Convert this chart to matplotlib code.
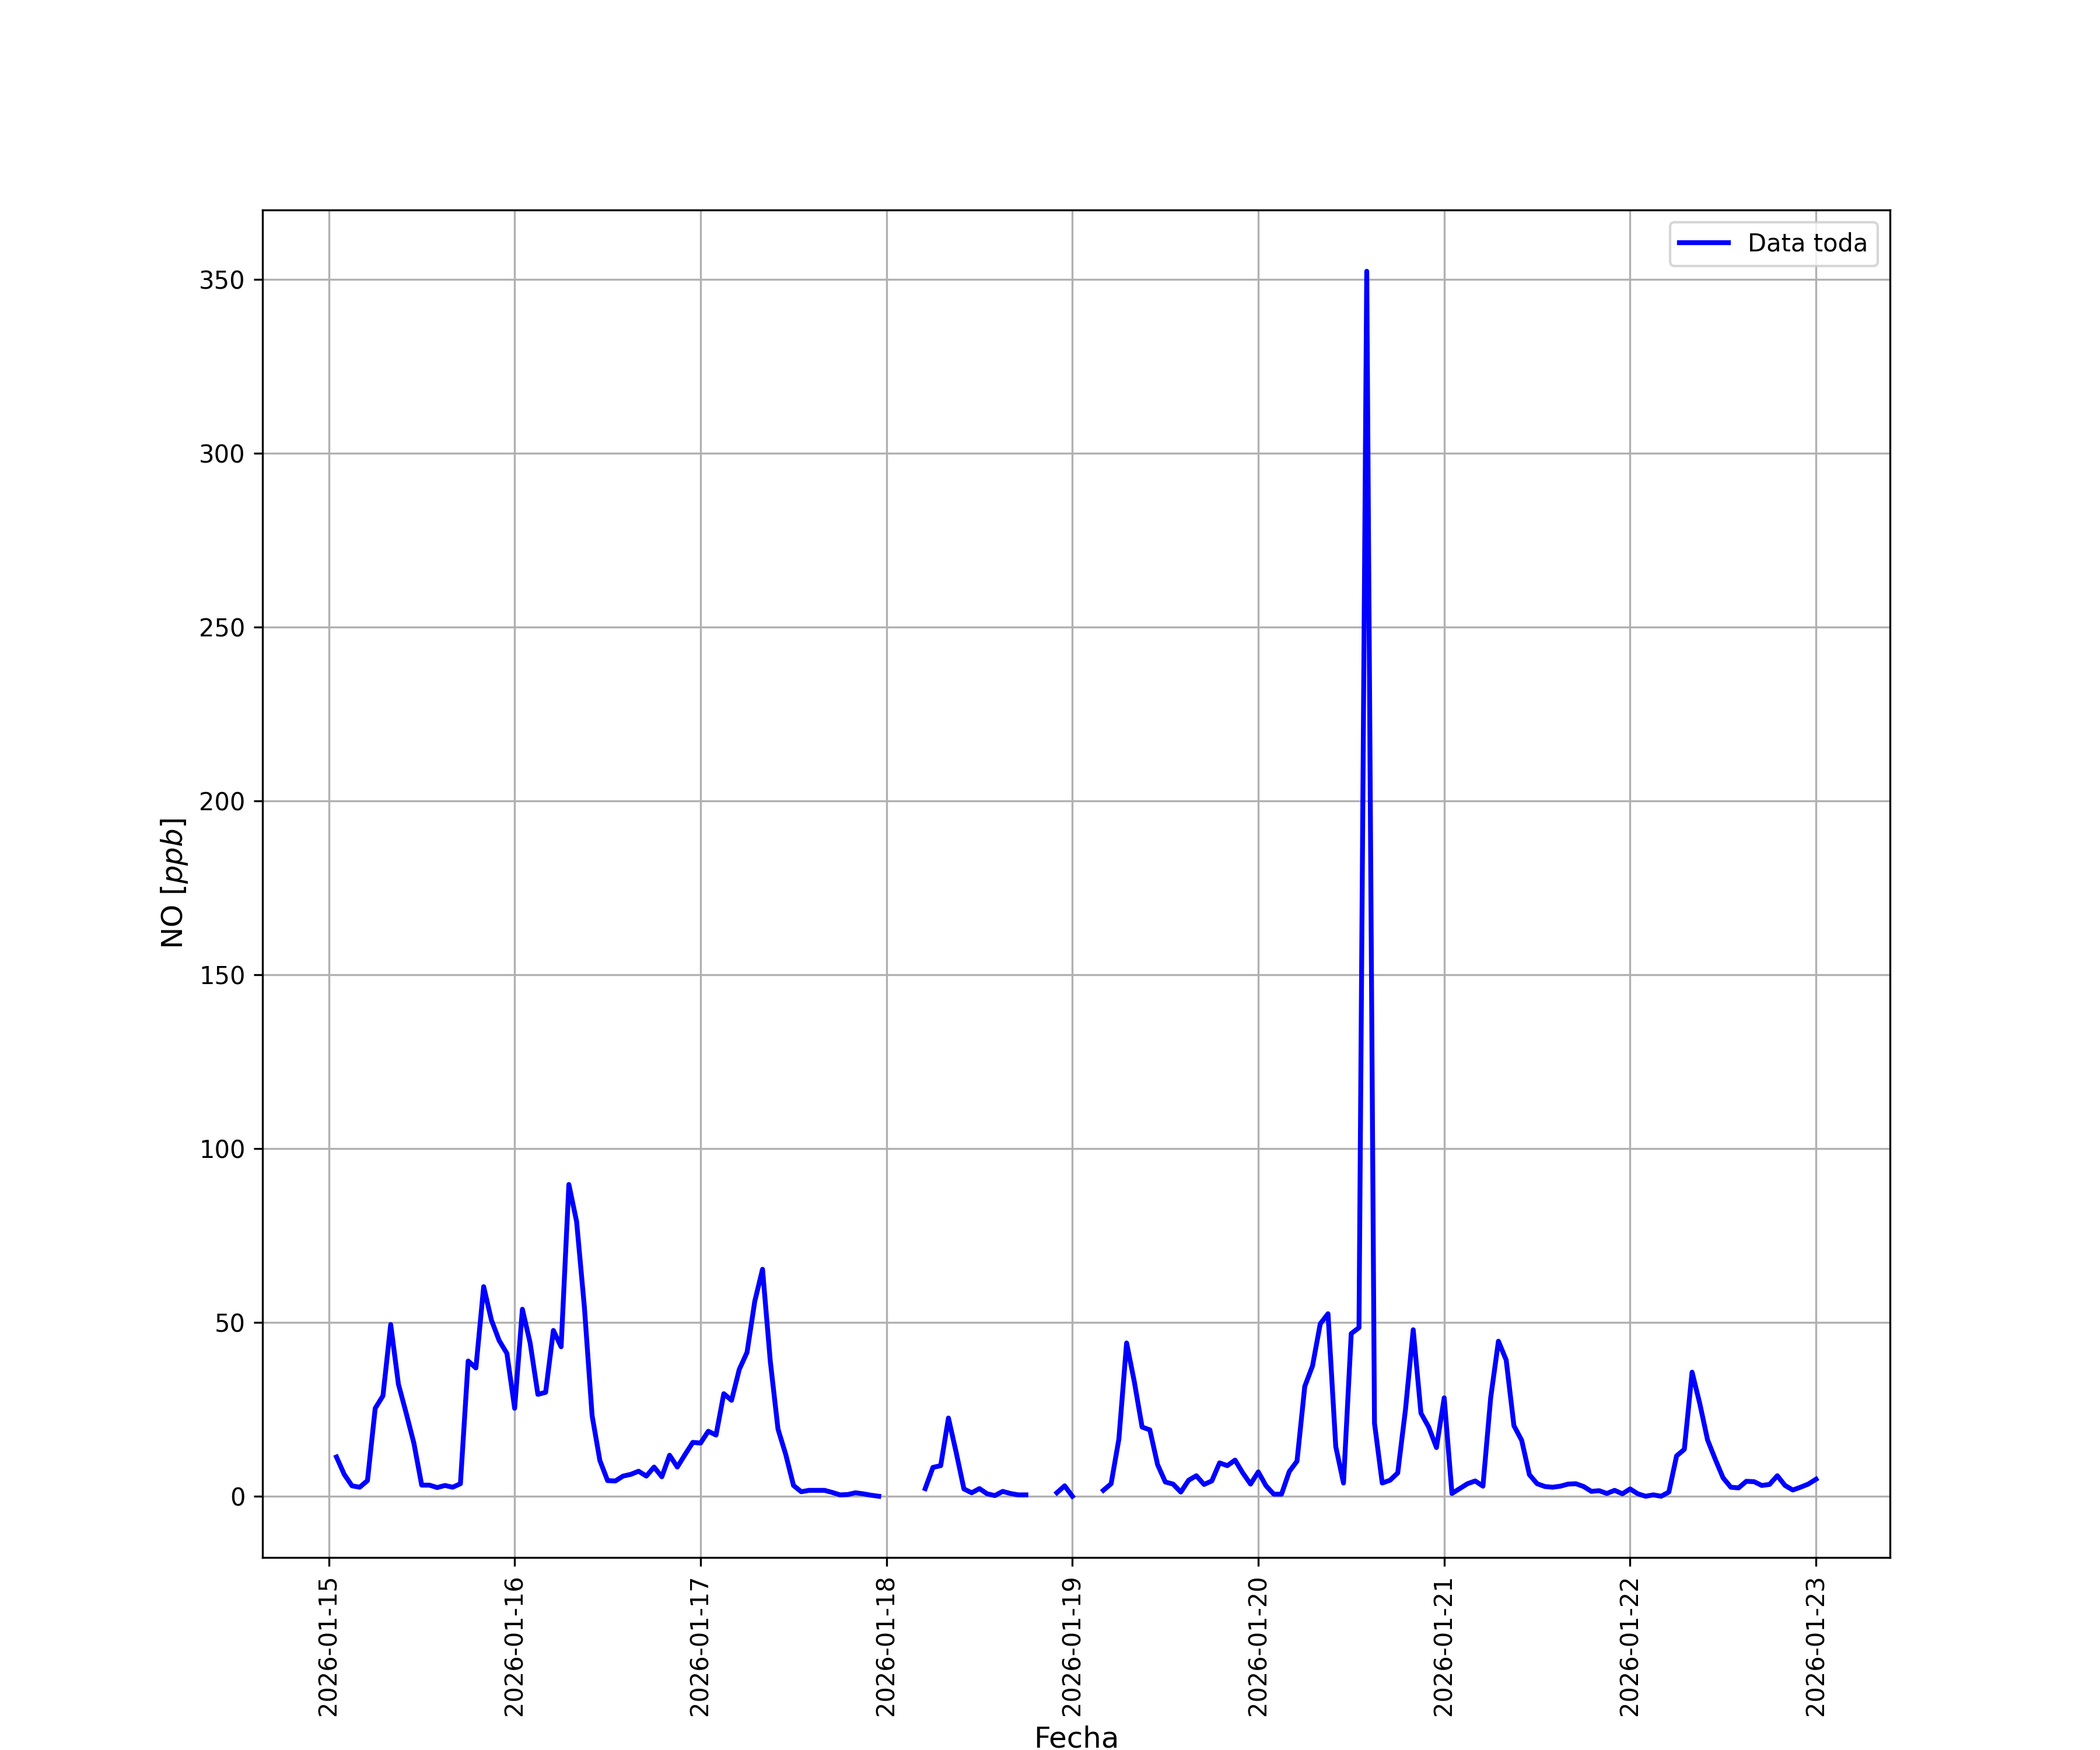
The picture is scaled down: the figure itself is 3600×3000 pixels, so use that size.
import numpy as np
import pandas as pd
import matplotlib
matplotlib.use("Agg")
import matplotlib.pyplot as plt
import matplotlib.dates as mdates

nan = np.nan
# Hourly NO values (ppb), 2026-01-15 01:00 .. 2026-01-23 00:00
day15 = [11.3, 6.3, 3.0, 2.6, 4.5, 25.3, 28.9, 49.4, 32.2, 23.9, 15.2, 3.2,
         3.2, 2.5, 3.1, 2.6, 3.6, 38.9, 36.9, 60.3, 50.7, 44.8, 41.1]
day16 = [25.3, 53.8, 44.1, 29.3, 29.9, 47.7, 43.0, 89.7, 79.0, 54.5, 23.2, 10.3,
         4.5, 4.4, 5.8, 6.3, 7.2, 5.8, 8.4, 5.6, 11.8, 8.4, 12.0, 15.5]
day17 = [15.3, 18.7, 17.6, 29.5, 27.6, 36.5, 41.4, 56.1, 65.3, 38.9, 19.3, 12.0,
         3.1, 1.3, 1.7, 1.7, 1.7, 1.1, 0.4, 0.5, 1.0, 0.7, 0.3, 0.0]
day18 = [nan, nan, nan, nan, nan, 2.2, 8.3, 8.8, 22.5, 12.6, 2.1, 1.0,
         2.2, 0.7, 0.2, 1.4, 0.8, 0.4, 0.4, nan, nan, nan, 1.0, 3.0]
day19 = [0.0, nan, nan, nan, 1.7, 3.6, 16.4, 44.1, 32.9, 19.9, 19.1, 9.1,
         4.1, 3.5, 1.2, 4.6, 5.9, 3.4, 4.4, 9.6, 8.8, 10.4, 6.7, 3.5]
day20 = [7.0, 3.0, 0.6, 0.6, 7.1, 10.1, 31.6, 37.5, 49.6, 52.5, 14.3, 3.8,
         46.8, 48.5, 352.4, 21.0, 3.8, 4.6, 6.7, 24.9, 47.9, 23.9, 19.9, 14.0]
day21 = [28.3, 0.8, 2.2, 3.6, 4.4, 2.9, 28.3, 44.6, 39.2, 20.3, 16.1, 6.2,
         3.6, 2.8, 2.6, 2.9, 3.5, 3.6, 2.8, 1.4, 1.6, 0.8, 1.7, 0.7]
day22 = [2.1, 0.7, 0.0, 0.4, 0.0, 1.2, 11.6, 13.5, 35.7, 26.6, 16.2, 10.6,
         5.3, 2.6, 2.4, 4.3, 4.2, 3.1, 3.4, 5.9, 3.1, 1.8, 2.6, 3.5]
day23 = [4.9]

values = day15 + day16 + day17 + day18 + day19 + day20 + day21 + day22 + day23
times = pd.date_range("2026-01-15 01:00", periods=len(values), freq="h")

fig, ax = plt.subplots(figsize=(12, 10), dpi=300)
ax.plot(times, values, color="blue", linewidth=2, label="Data toda")
ax.grid(True)
ax.xaxis.set_major_locator(mdates.DayLocator())
ax.xaxis.set_major_formatter(mdates.DateFormatter("%Y-%m-%d"))
plt.setp(ax.get_xticklabels(), rotation=90)
ax.set_xlabel("Fecha", fontsize=12)
ax.set_ylabel("NO [$ppb$]", fontsize=12)
ax.legend(loc="upper right")
fig.savefig("out.png", dpi=300)
